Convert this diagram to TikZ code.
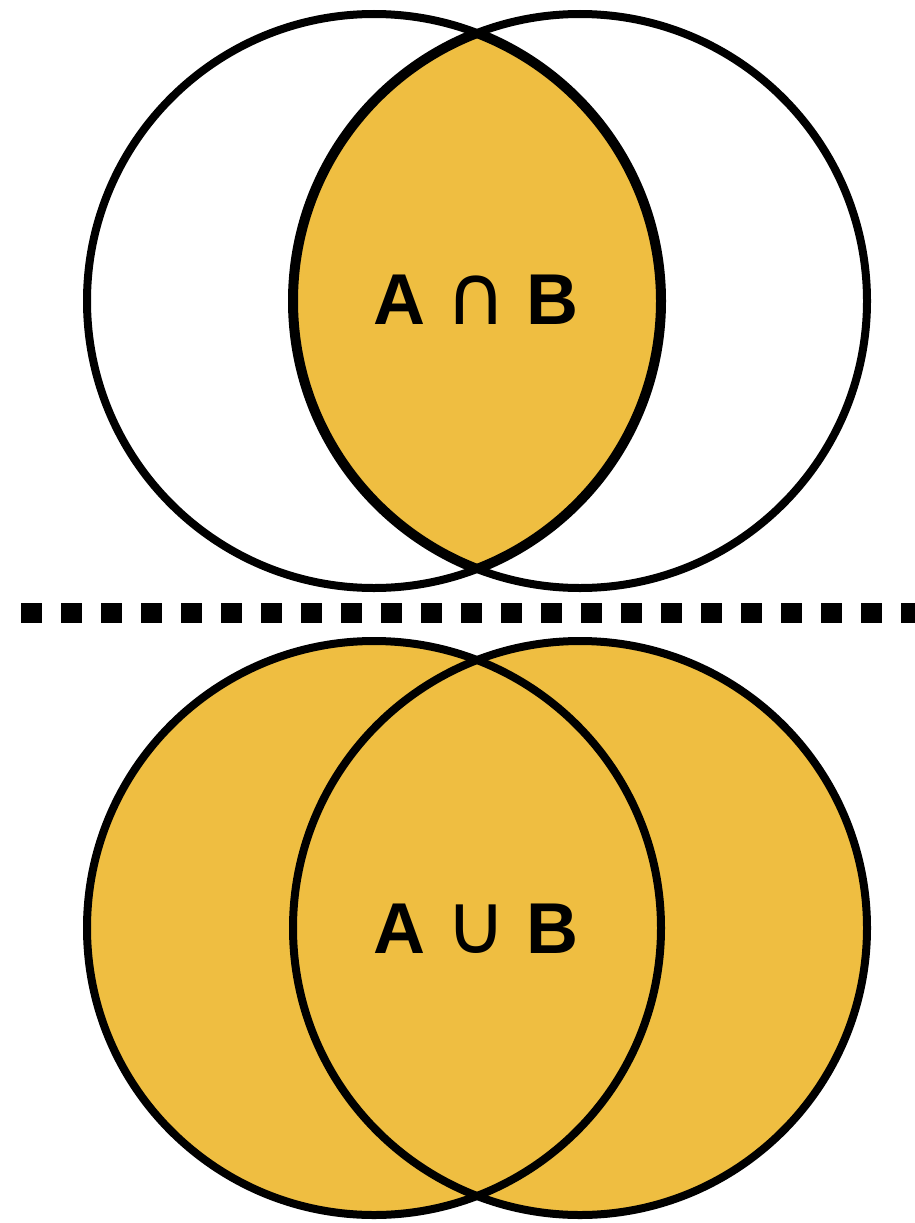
\documentclass[tikz,border=0pt]{standalone}
\usepackage{fontspec}
\setmainfont{Liberation Sans}
\newfontfamily\symfont{DejaVu Sans}
\definecolor{setfill}{RGB}{239,190,65}
\tikzset{
  setline/.style={draw=black, line width=8pt},
  lensline/.style={draw=black, line width=10pt},
  setlabel/.style={font=\fontsize{72}{72}\selectfont\bfseries, inner sep=0pt},
  sepline/.style={draw=black, line width=20pt, dash pattern=on 21pt off 19pt}
}
\newcommand{\setop}[1]{{\symfont\mdseries\fontsize{84}{84}\selectfont #1}}

\begin{document}
\begin{tikzpicture}[x=1pt,y=-1pt]
  \useasboundingbox (0,0) rectangle (915,1223);
  \coordinate (A1) at (374,301);
  \coordinate (B1) at (580,301);
  \coordinate (A2) at (374,928);
  \coordinate (B2) at (580,928);
  \coordinate (L) at (21,613);
  \coordinate (R) at (915,613);

  % intersection
  \begin{scope}
    \clip (A1) circle[radius=287pt];
    \fill[setfill] (B1) circle[radius=287pt];
  \end{scope}
  \draw[setline] (A1) circle[radius=287pt];
  \draw[setline] (B1) circle[radius=287pt];
  \begin{scope}
    \clip (A1) circle[radius=287pt];
    \draw[lensline] (B1) circle[radius=287pt];
  \end{scope}
  \begin{scope}
    \clip (B1) circle[radius=287pt];
    \draw[lensline] (A1) circle[radius=287pt];
  \end{scope}
  \node[setlabel] (capAB) at (476,300) {A \setop{∩} B};

  \draw[sepline] (L) -- (R);

  % union
  \fill[setfill] (A2) circle[radius=287pt];
  \fill[setfill] (B2) circle[radius=287pt];
  \draw[setline] (A2) circle[radius=287pt];
  \draw[setline] (B2) circle[radius=287pt];
  \node[setlabel] (cupAB) at (476,929) {A \setop{∪} B};
\end{tikzpicture}
\end{document}
